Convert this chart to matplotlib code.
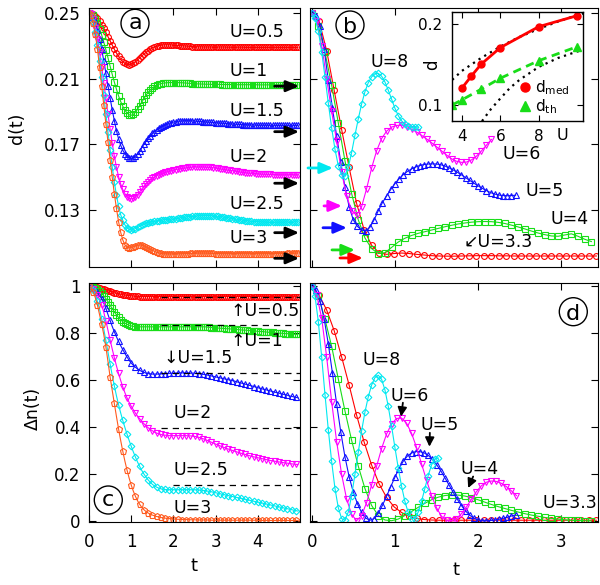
import numpy as np
import matplotlib
matplotlib.use("Agg")
import matplotlib.pyplot as plt
from matplotlib.patches import Ellipse

plt.rcParams['font.family'] = ['DejaVu Sans']
plt.rcParams['mathtext.fontset'] = 'dejavusans'

# ------------------------------------------------------------------ data
# panels (a) and (c): time grid 0 .. 4.95, step 0.05
t_ac = np.round(np.arange(100) * 0.05, 2)
U_ac = ['0.5', '1', '1.5', '2', '2.5', '3']

d_a_U05 = [0.2500, 0.2498, 0.2491, 0.2481, 0.2467, 0.2449, 0.2428, 0.2406, 0.2381, 0.2355,
           0.2330, 0.2304, 0.2279, 0.2256, 0.2236, 0.2218, 0.2204, 0.2193, 0.2187, 0.2185,
           0.2187, 0.2193, 0.2202, 0.2213, 0.2225, 0.2237, 0.2249, 0.2260, 0.2270, 0.2279,
           0.2287, 0.2293, 0.2298, 0.2301, 0.2303, 0.2305, 0.2306, 0.2306, 0.2306, 0.2305,
           0.2304, 0.2303, 0.2302, 0.2301, 0.2300, 0.2299, 0.2298, 0.2297, 0.2296, 0.2295,
           0.2294, 0.2294, 0.2293, 0.2293, 0.2292, 0.2292, 0.2292, 0.2292, 0.2292, 0.2292,
           0.2292, 0.2292, 0.2292, 0.2292, 0.2292, 0.2291, 0.2291, 0.2291, 0.2291, 0.2291,
           0.2291, 0.2291, 0.2291, 0.2291, 0.2290, 0.2290, 0.2290, 0.2290, 0.2290, 0.2290,
           0.2290, 0.2290, 0.2290, 0.2290, 0.2290, 0.2290, 0.2290, 0.2290, 0.2290, 0.2290,
           0.2290, 0.2290, 0.2290, 0.2290, 0.2290, 0.2290, 0.2290, 0.2290, 0.2290, 0.2290]
d_a_U1 = [0.2500, 0.2496, 0.2485, 0.2466, 0.2439, 0.2405, 0.2366, 0.2322, 0.2276, 0.2226,
          0.2176, 0.2126, 0.2079, 0.2036, 0.1995, 0.1961, 0.1932, 0.1908, 0.1891, 0.1880,
          0.1877, 0.1882, 0.1895, 0.1913, 0.1934, 0.1956, 0.1978, 0.1998, 0.2016, 0.2031,
          0.2043, 0.2053, 0.2060, 0.2065, 0.2069, 0.2072, 0.2074, 0.2075, 0.2076, 0.2076,
          0.2076, 0.2076, 0.2076, 0.2075, 0.2075, 0.2074, 0.2073, 0.2072, 0.2071, 0.2070,
          0.2069, 0.2068, 0.2068, 0.2067, 0.2067, 0.2066, 0.2066, 0.2066, 0.2065, 0.2065,
          0.2065, 0.2065, 0.2065, 0.2064, 0.2064, 0.2064, 0.2064, 0.2064, 0.2064, 0.2064,
          0.2063, 0.2063, 0.2063, 0.2063, 0.2063, 0.2063, 0.2063, 0.2063, 0.2063, 0.2063,
          0.2062, 0.2062, 0.2062, 0.2062, 0.2062, 0.2062, 0.2062, 0.2062, 0.2062, 0.2062,
          0.2062, 0.2062, 0.2062, 0.2062, 0.2062, 0.2062, 0.2062, 0.2062, 0.2062, 0.2062]
d_a_U15 = [0.2500, 0.2494, 0.2473, 0.2442, 0.2398, 0.2341, 0.2279, 0.2208, 0.2133, 0.2058,
           0.1982, 0.1911, 0.1845, 0.1783, 0.1734, 0.1695, 0.1664, 0.1642, 0.1626, 0.1618,
           0.1615, 0.1619, 0.1628, 0.1642, 0.1660, 0.1680, 0.1700, 0.1719, 0.1737, 0.1752,
           0.1766, 0.1778, 0.1789, 0.1798, 0.1806, 0.1813, 0.1819, 0.1824, 0.1828, 0.1832,
           0.1835, 0.1838, 0.1840, 0.1842, 0.1843, 0.1844, 0.1844, 0.1844, 0.1844, 0.1843,
           0.1842, 0.1841, 0.1840, 0.1839, 0.1838, 0.1837, 0.1836, 0.1835, 0.1834, 0.1833,
           0.1832, 0.1831, 0.1830, 0.1829, 0.1828, 0.1827, 0.1826, 0.1825, 0.1824, 0.1823,
           0.1822, 0.1822, 0.1821, 0.1820, 0.1820, 0.1819, 0.1819, 0.1818, 0.1818, 0.1818,
           0.1817, 0.1817, 0.1817, 0.1817, 0.1817, 0.1817, 0.1816, 0.1816, 0.1816, 0.1816,
           0.1816, 0.1816, 0.1816, 0.1816, 0.1816, 0.1816, 0.1816, 0.1816, 0.1816, 0.1816]
d_a_U2 = [0.2500, 0.2491, 0.2460, 0.2409, 0.2342, 0.2262, 0.2172, 0.2076, 0.1979, 0.1883,
          0.1793, 0.1708, 0.1628, 0.1560, 0.1504, 0.1459, 0.1425, 0.1400, 0.1382, 0.1371,
          0.1368, 0.1372, 0.1381, 0.1394, 0.1410, 0.1427, 0.1444, 0.1460, 0.1473, 0.1484,
          0.1494, 0.1502, 0.1509, 0.1515, 0.1520, 0.1525, 0.1529, 0.1533, 0.1537, 0.1540,
          0.1543, 0.1546, 0.1549, 0.1551, 0.1553, 0.1555, 0.1557, 0.1559, 0.1560, 0.1561,
          0.1562, 0.1563, 0.1563, 0.1563, 0.1563, 0.1562, 0.1561, 0.1560, 0.1559, 0.1557,
          0.1555, 0.1553, 0.1551, 0.1549, 0.1547, 0.1545, 0.1543, 0.1541, 0.1539, 0.1537,
          0.1535, 0.1533, 0.1531, 0.1529, 0.1528, 0.1526, 0.1525, 0.1524, 0.1523, 0.1522,
          0.1521, 0.1520, 0.1519, 0.1518, 0.1518, 0.1517, 0.1517, 0.1516, 0.1516, 0.1516,
          0.1515, 0.1515, 0.1515, 0.1515, 0.1515, 0.1515, 0.1515, 0.1515, 0.1515, 0.1515]
d_a_U25 = [0.2500, 0.2487, 0.2447, 0.2381, 0.2302, 0.2210, 0.2111, 0.1998, 0.1886, 0.1774,
           0.1668, 0.1563, 0.1470, 0.1391, 0.1325, 0.1272, 0.1237, 0.1210, 0.1193, 0.1183,
           0.1180, 0.1182, 0.1187, 0.1194, 0.1201, 0.1208, 0.1214, 0.1219, 0.1223, 0.1226,
           0.1229, 0.1231, 0.1233, 0.1235, 0.1237, 0.1239, 0.1241, 0.1242, 0.1243, 0.1244,
           0.1245, 0.1247, 0.1249, 0.1251, 0.1253, 0.1255, 0.1257, 0.1259, 0.1260, 0.1261,
           0.1262, 0.1263, 0.1264, 0.1265, 0.1265, 0.1266, 0.1266, 0.1265, 0.1265, 0.1264,
           0.1263, 0.1262, 0.1260, 0.1258, 0.1256, 0.1254, 0.1252, 0.1250, 0.1248, 0.1246,
           0.1244, 0.1242, 0.1240, 0.1238, 0.1236, 0.1234, 0.1232, 0.1231, 0.1230, 0.1229,
           0.1228, 0.1227, 0.1226, 0.1226, 0.1225, 0.1225, 0.1225, 0.1225, 0.1225, 0.1225,
           0.1225, 0.1225, 0.1225, 0.1226, 0.1226, 0.1226, 0.1226, 0.1227, 0.1227, 0.1227]
d_a_U3 = [0.2500, 0.2485, 0.2440, 0.2370, 0.2280, 0.2170, 0.2055, 0.1940, 0.1825, 0.1715,
          0.1605, 0.1500, 0.1400, 0.1310, 0.1230, 0.1165, 0.1118, 0.1088, 0.1074, 0.1070,
          0.1072, 0.1077, 0.1082, 0.1086, 0.1087, 0.1086, 0.1082, 0.1076, 0.1069, 0.1062,
          0.1055, 0.1049, 0.1043, 0.1039, 0.1036, 0.1034, 0.1033, 0.1032, 0.1032, 0.1032,
          0.1032, 0.1032, 0.1033, 0.1033, 0.1034, 0.1034, 0.1035, 0.1035, 0.1036, 0.1036,
          0.1036, 0.1037, 0.1037, 0.1037, 0.1037, 0.1037, 0.1037, 0.1036, 0.1036, 0.1036,
          0.1035, 0.1035, 0.1035, 0.1034, 0.1034, 0.1034, 0.1034, 0.1034, 0.1034, 0.1034,
          0.1034, 0.1034, 0.1034, 0.1034, 0.1034, 0.1034, 0.1034, 0.1034, 0.1034, 0.1034,
          0.1034, 0.1034, 0.1034, 0.1034, 0.1034, 0.1034, 0.1035, 0.1035, 0.1035, 0.1035,
          0.1035, 0.1035, 0.1035, 0.1035, 0.1036, 0.1036, 0.1036, 0.1036, 0.1037, 0.1037]
d_a_arrows = [0.2054, 0.1777, 0.1463, 0.1162, 0.1006]   # long-time values, U=1..3

dn_c_U05 = [1.000, 1.000, 0.999, 0.998, 0.996, 0.994, 0.991, 0.988, 0.985, 0.982,
            0.979, 0.976, 0.973, 0.971, 0.969, 0.967, 0.965, 0.963, 0.962, 0.961,
            0.960, 0.959, 0.958, 0.958, 0.957, 0.957, 0.957, 0.957, 0.957, 0.957,
            0.957, 0.957, 0.957, 0.957, 0.957, 0.957, 0.957, 0.957, 0.957, 0.957,
            0.957, 0.957, 0.957, 0.957, 0.957, 0.957, 0.957, 0.957, 0.957, 0.957,
            0.957, 0.957, 0.957, 0.957, 0.957, 0.957, 0.957, 0.957, 0.957, 0.957,
            0.957, 0.957, 0.957, 0.957, 0.957, 0.957, 0.957, 0.957, 0.957, 0.957,
            0.957, 0.957, 0.957, 0.957, 0.957, 0.957, 0.957, 0.957, 0.957, 0.957,
            0.957, 0.957, 0.957, 0.957, 0.957, 0.957, 0.957, 0.957, 0.957, 0.957,
            0.956, 0.956, 0.956, 0.956, 0.956, 0.956, 0.956, 0.956, 0.956, 0.956]
dn_c_U1 = [1.000, 0.999, 0.997, 0.993, 0.988, 0.980, 0.971, 0.960, 0.948, 0.935,
           0.920, 0.906, 0.892, 0.879, 0.868, 0.858, 0.850, 0.844, 0.839, 0.835,
           0.832, 0.830, 0.829, 0.828, 0.828, 0.828, 0.828, 0.828, 0.828, 0.828,
           0.828, 0.828, 0.828, 0.828, 0.828, 0.828, 0.828, 0.828, 0.828, 0.828,
           0.828, 0.828, 0.828, 0.828, 0.828, 0.828, 0.828, 0.828, 0.828, 0.828,
           0.828, 0.828, 0.828, 0.828, 0.828, 0.828, 0.827, 0.826, 0.825, 0.825,
           0.824, 0.823, 0.822, 0.822, 0.821, 0.820, 0.820, 0.819, 0.818, 0.817,
           0.817, 0.816, 0.815, 0.814, 0.814, 0.813, 0.812, 0.811, 0.811, 0.810,
           0.809, 0.808, 0.808, 0.807, 0.806, 0.805, 0.804, 0.804, 0.803, 0.802,
           0.801, 0.801, 0.800, 0.799, 0.799, 0.798, 0.797, 0.797, 0.796, 0.796]
dn_c_U15 = [1.000, 0.998, 0.993, 0.985, 0.975, 0.962, 0.947, 0.929, 0.907, 0.880,
            0.855, 0.830, 0.807, 0.786, 0.766, 0.748, 0.731, 0.715, 0.700, 0.686,
            0.674, 0.664, 0.656, 0.649, 0.643, 0.638, 0.634, 0.631, 0.629, 0.628,
            0.627, 0.627, 0.627, 0.627, 0.628, 0.628, 0.629, 0.629, 0.630, 0.630,
            0.631, 0.631, 0.632, 0.632, 0.632, 0.632, 0.632, 0.632, 0.631, 0.631,
            0.631, 0.630, 0.629, 0.628, 0.626, 0.625, 0.623, 0.621, 0.619, 0.617,
            0.615, 0.613, 0.611, 0.609, 0.607, 0.605, 0.603, 0.601, 0.599, 0.597,
            0.594, 0.592, 0.589, 0.587, 0.584, 0.582, 0.579, 0.577, 0.574, 0.572,
            0.569, 0.567, 0.564, 0.562, 0.560, 0.557, 0.555, 0.553, 0.550, 0.548,
            0.546, 0.543, 0.541, 0.539, 0.537, 0.534, 0.532, 0.530, 0.528, 0.526]
dn_c_U2 = [1.000, 0.997, 0.990, 0.979, 0.964, 0.946, 0.921, 0.890, 0.853, 0.813,
           0.772, 0.734, 0.697, 0.662, 0.630, 0.600, 0.573, 0.548, 0.526, 0.507,
           0.490, 0.475, 0.461, 0.448, 0.437, 0.426, 0.416, 0.407, 0.399, 0.392,
           0.386, 0.380, 0.376, 0.373, 0.370, 0.368, 0.367, 0.366, 0.365, 0.365,
           0.365, 0.365, 0.365, 0.365, 0.365, 0.365, 0.365, 0.364, 0.364, 0.363,
           0.362, 0.360, 0.358, 0.355, 0.352, 0.349, 0.345, 0.341, 0.337, 0.333,
           0.329, 0.326, 0.322, 0.318, 0.315, 0.311, 0.308, 0.305, 0.302, 0.299,
           0.296, 0.293, 0.290, 0.288, 0.285, 0.282, 0.280, 0.277, 0.275, 0.273,
           0.271, 0.269, 0.267, 0.265, 0.263, 0.261, 0.259, 0.258, 0.256, 0.255,
           0.253, 0.252, 0.250, 0.249, 0.248, 0.246, 0.245, 0.244, 0.243, 0.242]
dn_c_U25 = [1.000, 0.996, 0.984, 0.964, 0.937, 0.903, 0.863, 0.818, 0.770, 0.720,
            0.670, 0.622, 0.577, 0.535, 0.497, 0.462, 0.430, 0.400, 0.372, 0.345,
            0.320, 0.296, 0.274, 0.253, 0.234, 0.217, 0.202, 0.189, 0.177, 0.167,
            0.158, 0.151, 0.146, 0.142, 0.139, 0.137, 0.136, 0.135, 0.135, 0.135,
            0.135, 0.135, 0.135, 0.135, 0.135, 0.135, 0.135, 0.135, 0.135, 0.135,
            0.135, 0.134, 0.134, 0.133, 0.132, 0.131, 0.129, 0.128, 0.126, 0.124,
            0.122, 0.120, 0.118, 0.116, 0.114, 0.112, 0.110, 0.108, 0.106, 0.104,
            0.102, 0.100, 0.098, 0.096, 0.094, 0.092, 0.090, 0.088, 0.086, 0.084,
            0.082, 0.080, 0.078, 0.076, 0.074, 0.072, 0.070, 0.068, 0.066, 0.064,
            0.062, 0.060, 0.058, 0.056, 0.054, 0.052, 0.050, 0.048, 0.046, 0.044]
dn_c_U3 = [1.000, 0.994, 0.977, 0.952, 0.920, 0.880, 0.840, 0.795, 0.742, 0.680,
           0.615, 0.558, 0.502, 0.447, 0.394, 0.345, 0.299, 0.257, 0.219, 0.185,
           0.155, 0.129, 0.107, 0.088, 0.073, 0.060, 0.050, 0.042, 0.036, 0.031,
           0.027, 0.024, 0.021, 0.019, 0.017, 0.015, 0.014, 0.013, 0.012, 0.011,
           0.010, 0.010, 0.009, 0.009, 0.008, 0.008, 0.008, 0.007, 0.007, 0.007,
           0.007, 0.006, 0.006, 0.006, 0.006, 0.006, 0.006, 0.005, 0.005, 0.005,
           0.005, 0.005, 0.005, 0.005, 0.005, 0.005, 0.005, 0.005, 0.005, 0.005,
           0.005, 0.005, 0.005, 0.005, 0.005, 0.005, 0.005, 0.005, 0.005, 0.005,
           0.004, 0.004, 0.004, 0.004, 0.004, 0.004, 0.004, 0.004, 0.004, 0.004,
           0.004, 0.004, 0.004, 0.004, 0.004, 0.004, 0.004, 0.004, 0.004, 0.004]
dn_c_dashed = [0.955, 0.837, 0.631, 0.397, 0.156]   # U=0.5 .. 2.5
dn_c_dashed_from = [1.7, 1.7, 1.7, 1.7, 2.0]

# panel (b): d(t) for large U
U_b = ['3.3', '4', '5', '6', '8']
t_b_U33 = np.round(np.arange(39) * 0.09, 2)
t_b_U4 = np.round(np.arange(43) * 0.08, 2)
t_b_U5 = np.round(np.arange(50) * 0.05, 2)
t_b_U6 = np.round(np.arange(37) * 0.06, 2)
t_b_U8 = np.round(np.arange(33) * 0.04, 2)
d_b_U33 = [0.2500, 0.2450, 0.2270, 0.2030, 0.1790, 0.1560, 0.1340, 0.1180, 0.1085, 0.1040,
           0.1030, 0.1035, 0.1038, 0.1035, 0.1030, 0.1026, 0.1022, 0.1020, 0.1019, 0.1019,
           0.1020, 0.1021, 0.1022, 0.1022, 0.1022, 0.1021, 0.1021, 0.1020, 0.1020, 0.1020,
           0.1020, 0.1020, 0.1020, 0.1020, 0.1020, 0.1020, 0.1020, 0.1020, 0.1020]
d_b_U4 = [0.2500, 0.2420, 0.2260, 0.2060, 0.1830, 0.1600, 0.1400, 0.1240, 0.1130, 0.1065,
          0.1035, 0.1040, 0.1072, 0.1105, 0.1128, 0.1145, 0.1158, 0.1168, 0.1178, 0.1188,
          0.1198, 0.1207, 0.1215, 0.1221, 0.1226, 0.1229, 0.1230, 0.1229, 0.1225, 0.1218,
          0.1208, 0.1197, 0.1185, 0.1172, 0.1160, 0.1150, 0.1142, 0.1140, 0.1148, 0.1155,
          0.1140, 0.1122, 0.1108]
d_b_U5 = [0.2500, 0.2480, 0.2420, 0.2280, 0.2090, 0.1920, 0.1750, 0.1590, 0.1440, 0.1320,
          0.1240, 0.1200, 0.1178, 0.1172, 0.1195, 0.1240, 0.1295, 0.1345, 0.1385, 0.1425,
          0.1460, 0.1490, 0.1515, 0.1535, 0.1550, 0.1562, 0.1571, 0.1577, 0.1580, 0.1581,
          0.1580, 0.1576, 0.1568, 0.1557, 0.1544, 0.1530, 0.1514, 0.1497, 0.1480, 0.1463,
          0.1447, 0.1432, 0.1418, 0.1406, 0.1397, 0.1391, 0.1388, 0.1387, 0.1388, 0.1390]
d_b_U6 = [0.2500, 0.2450, 0.2300, 0.2100, 0.1900, 0.1720, 0.1530, 0.1385, 0.1295, 0.1270,
          0.1320, 0.1430, 0.1555, 0.1660, 0.1735, 0.1780, 0.1805, 0.1815, 0.1816, 0.1808,
          0.1793, 0.1775, 0.1755, 0.1733, 0.1710, 0.1685, 0.1660, 0.1635, 0.1612, 0.1597,
          0.1590, 0.1592, 0.1605, 0.1628, 0.1660, 0.1695, 0.1730]
d_b_U8 = [0.2500, 0.2470, 0.2390, 0.2265, 0.2110, 0.1950, 0.1800, 0.1670, 0.1570, 0.1515,
          0.1510, 0.1560, 0.1650, 0.1755, 0.1855, 0.1945, 0.2020, 0.2075, 0.2110, 0.2130,
          0.2132, 0.2115, 0.2080, 0.2030, 0.1975, 0.1920, 0.1875, 0.1843, 0.1822, 0.1810,
          0.1804, 0.1803, 0.1805]
d_b_arrows = [0.1008, 0.1057, 0.1192, 0.1325, 0.1556]   # U=3.3, 4, 5, 6, 8

# panel (d): Delta n(t) for large U
t_d_U33 = np.round(np.arange(39) * 0.09, 2)
t_d_U4 = np.round(np.arange(43) * 0.08, 2)
t_d_U5 = np.round(np.arange(50) * 0.05, 2)
t_d_U6 = np.round(np.arange(42) * 0.06, 2)
t_d_U8 = np.round(np.arange(39) * 0.04, 2)
dn_d_U33 = [1.000, 0.962, 0.900, 0.812, 0.700, 0.580, 0.452, 0.338, 0.240, 0.160,
            0.102, 0.062, 0.038, 0.022, 0.013, 0.008, 0.006, 0.005, 0.005, 0.005,
            0.005, 0.005, 0.005, 0.005, 0.005, 0.005, 0.005, 0.005, 0.005, 0.005,
            0.005, 0.005, 0.005, 0.005, 0.005, 0.005, 0.005, 0.005, 0.005]
dn_d_U4 = [1.000, 0.960, 0.860, 0.745, 0.606, 0.470, 0.345, 0.235, 0.140, 0.068,
           0.025, 0.006, 0.003, 0.010, 0.025, 0.042, 0.060, 0.077, 0.092, 0.103,
           0.110, 0.113, 0.112, 0.108, 0.101, 0.092, 0.082, 0.072, 0.063, 0.055,
           0.047, 0.040, 0.033, 0.027, 0.022, 0.017, 0.013, 0.010, 0.007, 0.005,
           0.004, 0.003, 0.002]
dn_d_U5 = [1.000, 0.985, 0.940, 0.862, 0.755, 0.630, 0.500, 0.380, 0.275, 0.190,
           0.125, 0.075, 0.038, 0.014, 0.005, 0.012, 0.035, 0.068, 0.107, 0.148,
           0.188, 0.225, 0.256, 0.278, 0.291, 0.297, 0.297, 0.292, 0.281, 0.264,
           0.242, 0.216, 0.186, 0.155, 0.124, 0.094, 0.067, 0.044, 0.026, 0.013,
           0.006, 0.003, 0.003, 0.004, 0.006, 0.009, 0.013, 0.018, 0.023, 0.028]
dn_d_U6 = [1.000, 0.965, 0.865, 0.700, 0.510, 0.340, 0.200, 0.095, 0.030, 0.003,
           0.025, 0.080, 0.155, 0.235, 0.310, 0.372, 0.415, 0.438, 0.440, 0.418,
           0.375, 0.315, 0.245, 0.175, 0.110, 0.058, 0.022, 0.005, 0.003, 0.012,
           0.033, 0.062, 0.095, 0.127, 0.152, 0.167, 0.172, 0.170, 0.162, 0.148,
           0.130, 0.110]
dn_d_U8 = [1.000, 0.960, 0.850, 0.700, 0.540, 0.390, 0.255, 0.140, 0.058, 0.012,
           0.005, 0.040, 0.110, 0.200, 0.295, 0.385, 0.465, 0.530, 0.580, 0.612,
           0.622, 0.605, 0.560, 0.490, 0.405, 0.315, 0.228, 0.150, 0.085, 0.038,
           0.012, 0.012, 0.040, 0.085, 0.140, 0.195, 0.240, 0.265, 0.270]

# inset
U_med = [4, 4.5, 5, 6, 8, 10]
d_med = [0.1206, 0.1358, 0.1502, 0.1708, 0.1967, 0.2103]
U_th = [3.5, 4, 5, 6, 8, 10]
d_th = [0.100, 0.1062, 0.1194, 0.1330, 0.1547, 0.1720]
U_bound_up = [3.5, 4, 5, 6, 7, 8, 9, 10, 10.3]
d_bound_up = [0.131, 0.142, 0.158, 0.172, 0.184, 0.194, 0.203, 0.211, 0.213]
U_bound_lo = [5.05, 5.5, 6, 6.5, 7, 7.5, 8, 9, 10, 10.3]
d_bound_lo = [0.080, 0.0945, 0.108, 0.121, 0.131, 0.139, 0.147, 0.158, 0.166, 0.168]

# ------------------------------------------------------------------ styles
RED, GREEN, BLUE = '#ff0000', '#18dd18', '#1010ff'
MAG, CYAN, ORANGE = '#ff00ff', '#00e8f0', '#ff5a1e'
W, H = 600, 585

fig = plt.figure(figsize=(6.0, 5.85), dpi=100)


def px_axes(l, t, r, b):
    return fig.add_axes([l / W, 1 - b / H, (r - l) / W, (b - t) / H])


ax_a = px_axes(89, 8, 300, 267)
ax_b = px_axes(310, 8, 598, 267)
ax_c = px_axes(89, 283, 300, 522)
ax_d = px_axes(310, 283, 598, 522)

for ax in (ax_a, ax_b, ax_c, ax_d):
    ax.tick_params(direction='in', top=True, right=True, length=5, width=0.8,
                   labelsize=12)
    ax.tick_params(axis='x', pad=8)
    ax.tick_params(axis='y', pad=6)
    for s in ax.spines.values():
        s.set_linewidth(0.8)


def curve(ax, t, y, color, marker, ms=4.2, every=1, z=2):
    ax.plot(t, y, '-', color=color, lw=0.8, marker=marker, ms=ms, mfc='none',
            mec=color, mew=0.8, markevery=every, zorder=z)


# ---- panel (a)
curve(ax_a, t_ac, d_a_U05, RED, 'o')
curve(ax_a, t_ac, d_a_U1, GREEN, 's', ms=4.0)
curve(ax_a, t_ac, d_a_U15, BLUE, '^', ms=4.6)
curve(ax_a, t_ac, d_a_U2, MAG, 'v', ms=4.6)
curve(ax_a, t_ac, d_a_U25, CYAN, 'D', ms=3.4)
curve(ax_a, t_ac, d_a_U3, ORANGE, 'p', ms=4.6)
ax_a.set_xlim(0, 5.0)
ax_a.set_ylim(0.0953, 0.253)
ax_a.set_xticks([0, 1, 2, 3, 4])
ax_a.set_xticklabels([])
ax_a.set_yticks([0.13, 0.17, 0.21, 0.25])
ax_a.set_yticklabels(['0.13', '0.17', '0.21', '0.25'])

lab_a = [(0.2386, 'U=0.5'), (0.2147, 'U=1'), (0.1900, 'U=1.5'),
         (0.1620, 'U=2'), (0.1337, 'U=2.5'), (0.1128, 'U=3')]
for y, s in lab_a:
    ax_a.text(3.33, y, s, fontsize=12.5, ha='left', va='center', zorder=5)
for y in d_a_arrows:
    ax_a.annotate('', xy=(4.98, y), xytext=(4.40, y),
                  arrowprops=dict(arrowstyle='-|>,head_length=0.7,head_width=0.3',
                                  color='k', lw=2.0, shrinkA=0, shrinkB=0,
                                  mutation_scale=11),
                  annotation_clip=False, zorder=6)

# ---- panel (b)
curve(ax_b, t_b_U33, d_b_U33, RED, 'o')
curve(ax_b, t_b_U4, d_b_U4, GREEN, 's', ms=4.0)
curve(ax_b, t_b_U5, d_b_U5, BLUE, '^', ms=4.6)
curve(ax_b, t_b_U6, d_b_U6, MAG, 'v', ms=4.6)
curve(ax_b, t_b_U8, d_b_U8, CYAN, 'D', ms=3.4)
ax_b.set_xlim(-0.02, 3.44)
ax_b.set_ylim(0.0953, 0.253)
ax_b.set_xticks([0, 1, 2, 3])
ax_b.set_xticklabels([])
ax_b.set_yticks([0.13, 0.17, 0.21, 0.25])
ax_b.set_yticklabels([])

lab_b = [(0.94, 0.2203, 'U=8'), (2.52, 0.1638, 'U=6'), (2.80, 0.1416, 'U=5'),
         (3.10, 0.1245, 'U=4'), (2.24, 0.1107, '\u2199U=3.3')]
for x, y, s in lab_b:
    ax_b.text(x, y, s, fontsize=12.5, ha='center', va='center', zorder=5)
arr_b = [(0.34, 0.616, RED), (0.244, 0.52, GREEN), (0.136, 0.424, BLUE),
         (0.148, 0.364, MAG), (-0.044, 0.256, CYAN)]
for (x0, x1, c), y in zip(arr_b, d_b_arrows):
    ax_b.annotate('', xy=(x1, y), xytext=(x0, y),
                  arrowprops=dict(arrowstyle='-|>,head_length=0.7,head_width=0.3',
                                  color=c, lw=2.0, shrinkA=0, shrinkB=0,
                                  mutation_scale=11),
                  annotation_clip=False, zorder=6)

# ---- panel (c)
curve(ax_c, t_ac, dn_c_U05, RED, 'o')
curve(ax_c, t_ac, dn_c_U1, GREEN, 's', ms=4.0)
curve(ax_c, t_ac, dn_c_U15, BLUE, '^', ms=4.6, every=2)
curve(ax_c, t_ac, dn_c_U2, MAG, 'v', ms=4.6, every=2)
curve(ax_c, t_ac, dn_c_U25, CYAN, 'D', ms=3.4, every=2)
curve(ax_c, t_ac, dn_c_U3, ORANGE, 'p', ms=4.6, every=2)
for v, t0 in zip(dn_c_dashed, dn_c_dashed_from):
    ax_c.plot([t0, 5.0], [v, v], color='k', lw=0.9, dashes=(5, 4), zorder=4)
ax_c.set_xlim(0, 5.0)
ax_c.set_ylim(-0.0025, 1.0145)
ax_c.set_xticks([0, 1, 2, 3, 4])
ax_c.set_xticklabels(['0', '1', '2', '3', '4'])
ax_c.set_yticks([0, 0.2, 0.4, 0.6, 0.8, 1.0])
ax_c.set_yticklabels(['0', '0.2', '0.4', '0.6', '0.8', '1'])

lab_c = [(3.34, 0.894, '\u2191U=0.5'), (3.34, 0.766, '\u2191U=1'),
         (1.76, 0.695, '\u2193U=1.5'), (2.0, 0.461, 'U=2'),
         (2.0, 0.220, 'U=2.5'), (2.0, 0.057, 'U=3')]
for x, y, s in lab_c:
    ax_c.text(x, y, s, fontsize=12.5, ha='left', va='center', zorder=5)

# ---- panel (d)
curve(ax_d, t_d_U33, dn_d_U33, RED, 'o')
curve(ax_d, t_d_U4, dn_d_U4, GREEN, 's', ms=4.0)
curve(ax_d, t_d_U5, dn_d_U5, BLUE, '^', ms=4.6)
curve(ax_d, t_d_U6, dn_d_U6, MAG, 'v', ms=4.6)
curve(ax_d, t_d_U8, dn_d_U8, CYAN, 'D', ms=3.4)
ax_d.set_xlim(-0.02, 3.44)
ax_d.set_ylim(-0.0025, 1.0145)
ax_d.set_xticks([0, 1, 2, 3])
ax_d.set_xticklabels(['0', '1', '2', '3'])
ax_d.set_yticks([0, 0.2, 0.4, 0.6, 0.8, 1.0])
ax_d.set_yticklabels([])

lab_d = [(0.84, 0.688, 'U=8'), (1.18, 0.532, 'U=6'), (1.54, 0.411, 'U=5'),
         (2.02, 0.223, 'U=4'), (3.10, 0.078, 'U=3.3')]
for x, y, s in lab_d:
    ax_d.text(x, y, s, fontsize=12.5, ha='center', va='center', zorder=5)
arr_d = [((1.096, 0.505), (1.074, 0.446)),
         ((1.42, 0.377), (1.415, 0.318)),
         ((1.94, 0.191), (1.88, 0.142))]
for p0, p1 in arr_d:
    ax_d.annotate('', xy=p1, xytext=p0,
                  arrowprops=dict(arrowstyle='-|>,head_length=0.6,head_width=0.3',
                                  color='k', lw=1.3, shrinkA=0, shrinkB=0,
                                  mutation_scale=9), zorder=6)

# ---- inset
ax_in = px_axes(452, 12, 583, 121)
ax_in.set_facecolor('white')
ax_in.plot(U_bound_up, d_bound_up, color='k', lw=1.6, dashes=(1, 2))
ax_in.plot(U_bound_lo, d_bound_lo, color='k', lw=1.6, dashes=(1, 2))
ax_in.plot(U_th, d_th, color=GREEN, lw=2.0, dashes=(3, 2), marker='^', ms=5.5,
           mfc=GREEN, mec=GREEN)
ax_in.plot(U_med, d_med, '-', color=RED, lw=2.0, marker='o', ms=5.0,
           mfc=RED, mec=RED)
ax_in.set_xlim(3.49, 10.3)
ax_in.set_ylim(0.0802, 0.2148)
ax_in.set_xticks([4, 6, 8])
ax_in.set_xticklabels(['4', '6', '8'])
ax_in.set_yticks([0.1, 0.2])
ax_in.set_yticklabels(['0.1', '0.2'])
ax_in.tick_params(direction='in', top=True, right=True, length=4, width=0.8,
                  labelsize=11)
ax_in.tick_params(axis='x', pad=6)
ax_in.tick_params(axis='y', pad=7)
for s in ax_in.spines.values():
    s.set_linewidth(1.0)
ax_in.text(9.25, -0.135, 'U', transform=ax_in.get_xaxis_transform(),
           ha='center', va='center', fontsize=11.5)
ax_in.plot([0.557], [0.31], 'o', color=RED, ms=6.5, transform=ax_in.transAxes,
           clip_on=False)
ax_in.plot([0.557], [0.135], '^', color=GREEN, ms=7, transform=ax_in.transAxes,
           clip_on=False)
ax_in.text(0.63, 0.31, r'd$_{\rm med}$', transform=ax_in.transAxes,
           fontsize=11, ha='left', va='center')
ax_in.text(0.63, 0.135, r'd$_{\rm th}$', transform=ax_in.transAxes,
           fontsize=11, ha='left', va='center')
fig.text(431.7 / W, 1 - 65 / H, 'd', rotation=90, ha='center', va='center',
         fontsize=12)

# ---- axis labels
fig.text(17 / W, 1 - 128 / H, 'd(t)', rotation=90, ha='center', va='center',
         fontsize=12.5)
fig.text(33 / W, 1 - 408 / H, '\u0394n(t)', rotation=90, ha='center',
         va='center', fontsize=12.5)
fig.text(194 / W, 1 - 566 / H, 't', ha='center', va='center', fontsize=13)
fig.text(456 / W, 1 - 570 / H, 't', ha='center', va='center', fontsize=13)


# ---- circled panel letters
def circ_label(x, y, s, dy):
    fig.add_artist(Ellipse((x / W, 1 - y / H), 28 / W, 28 / H,
                           transform=fig.transFigure, fc='white', ec='k',
                           lw=1.0, zorder=10))
    fig.text(x / W, 1 - (y + dy) / H, s, ha='center', va='baseline',
             fontsize=16, zorder=11)


circ_label(135, 23.3, 'a', 6)
circ_label(350, 25, 'b', 8)
circ_label(108.3, 500, 'c', 6)
circ_label(573.3, 311.7, 'd', 8)

fig.savefig('out.png', dpi=100)
